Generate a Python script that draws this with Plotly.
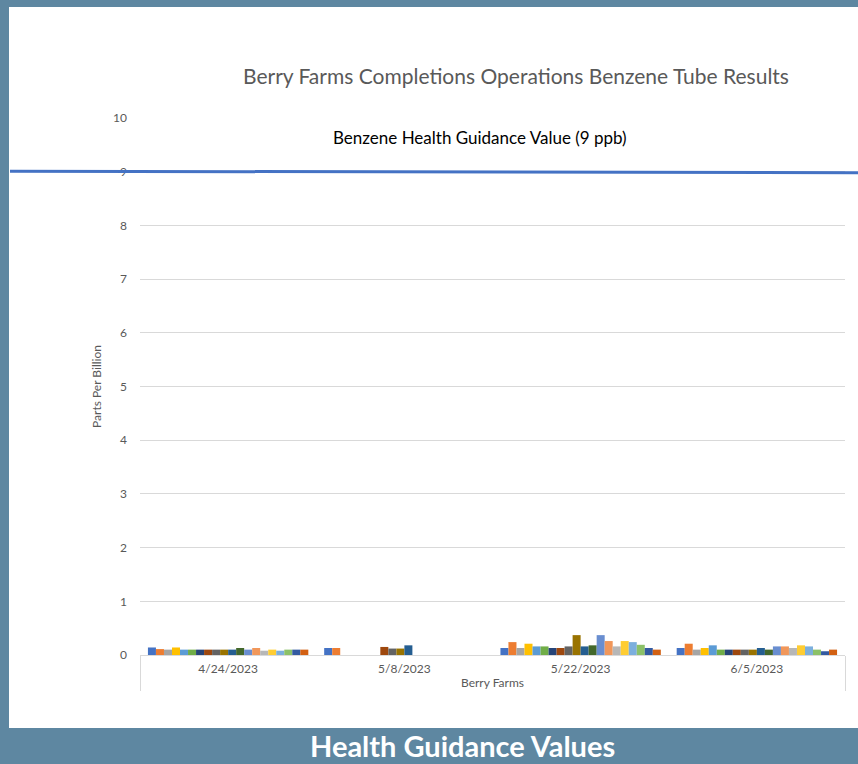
import plotly.graph_objects as go

dates = ["4/24/2023", "5/8/2023", "5/22/2023", "6/5/2023"]
site = "Berry Farms"
tube_names = [f"Tube {i}" for i in range(1, 21)]
# values per tube (ppb) for each of the 4 dates
values = [
    [0.14, 0.13, 0.13, 0.13],
    [0.11, 0.13, 0.24, 0.21],
    [0.10, None, 0.13, 0.10],
    [0.14, None, 0.21, 0.13],
    [0.10, None, 0.16, 0.18],
    [0.10, None, 0.16, 0.10],
    [0.10, None, 0.13, 0.10],
    [0.10, 0.15, 0.13, 0.10],
    [0.10, 0.12, 0.16, 0.10],
    [0.10, 0.12, 0.37, 0.10],
    [0.10, 0.18, 0.16, 0.13],
    [0.13, None, 0.18, 0.10],
    [0.10, None, 0.37, 0.16],
    [0.13, None, 0.26, 0.16],
    [0.08, None, 0.16, 0.13],
    [0.10, None, 0.26, 0.18],
    [0.08, None, 0.24, 0.16],
    [0.10, None, 0.19, 0.10],
    [0.10, None, 0.13, 0.07],
    [0.10, None, 0.10, 0.10],
]
colors = ["#4472C4", "#ED7D31", "#A5A5A5", "#FFC000", "#5B9BD5", "#70AD47",
          "#264478", "#9E480E", "#636363", "#997300", "#255E91", "#43682B",
          "#698ED0", "#F1975A", "#B7B7B7", "#FFCD33", "#7CAFDD", "#8CC168",
          "#335AA1", "#D26012"]
guidance_value = 9
guidance_label = "Benzene Health Guidance Value (9 ppb)"
chart_title = "Berry Farms Completions Operations Benzene Tube Results"
footer = "Health Guidance Values"
y_title = "Parts Per Billion"

W, H = 858, 764
L, R, T, B = 140, 13, 118, 109
pw, ph = W - L - R, H - T - B

def px_x(p):
    return (p - L) / pw

def px_y(p):
    return (H - B - p) / ph

fig = go.Figure()
for name, vals, c in zip(tube_names, values, colors):
    fig.add_trace(go.Bar(
        x=[[site] * len(dates), dates], y=vals, name=name,
        marker=dict(color=c, line=dict(width=0)),
    ))

border = "#5E87A1"
fig.add_shape(type="rect", xref="paper", yref="paper",
              x0=px_x(9), x1=px_x(860), y0=px_y(728), y1=px_y(7),
              fillcolor="white", line=dict(width=0), layer="below")
fig.add_shape(type="line", xref="paper", yref="y",
              x0=px_x(10), x1=px_x(858), y0=guidance_value + 0.01, y1=guidance_value - 0.02,
              line=dict(color="#4472C4", width=3))

def label(text, x, y, size, color):
    fig.add_annotation(text=text, xref="paper", yref="paper",
                       x=px_x(x), y=px_y(y), xanchor="center", yanchor="middle",
                       showarrow=False,
                       font=dict(family="Lato", size=size, color=color))

label(guidance_label, 480, 138, 17, "#000000")
label(chart_title, 516, 76, 21, "#595959")
label("<b>" + footer + "</b>", 462, 746, 29, "white")

fig.update_layout(
    width=W, height=H,
    margin=dict(l=L, r=R, t=T, b=B),
    paper_bgcolor=border, plot_bgcolor="rgba(0,0,0,0)",
    barmode="group", bargap=0.09, bargroupgap=0,
    showlegend=False,
    font=dict(family="Lato", color="#595959", size=12),
)
fig.update_yaxes(range=[0, 10], dtick=1, showgrid=True, gridcolor="#D9D9D9",
                 gridwidth=1, zeroline=False, showline=False,
                 ticklabelstandoff=12,
                 tickfont=dict(size=12, color="#595959"),
                 title=dict(text=y_title, font=dict(size=12, color="#595959"), standoff=8))
fig.update_xaxes(type="multicategory", showline=True, linecolor="#D9D9D9",
                 showdividers=True, dividercolor="#D9D9D9", dividerwidth=1,
                 ticklabelstandoff=3,
                 tickfont=dict(size=12, color="#595959"), showgrid=False)

fig.write_html("out.html", config={"displayModeBar": False},
               post_script="document.body.style.margin='0';document.body.style.background='#5E87A1';")
